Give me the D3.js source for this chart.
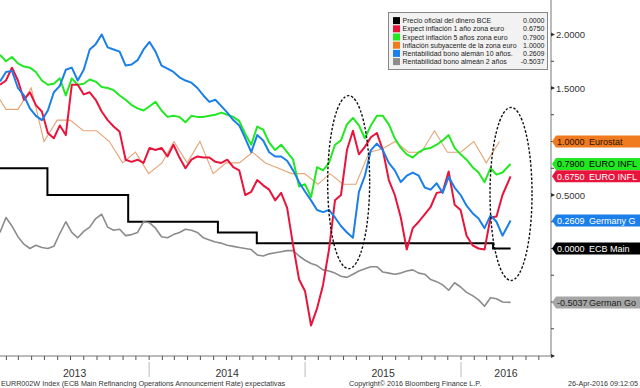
<!DOCTYPE html>
<html><head><meta charset="utf-8">
<script src="https://cdn.jsdelivr.net/npm/d3@7"></script>
<style>body{margin:0;background:#fff}svg{display:block}</style>
</head><body><svg id="c" width="640" height="388"></svg>
<script>
// ---------- DATA ----------
const startDate = "2013-01-17", endDate = "2016-04-26", stepDays = 14;
const blue10y = [1.56,1.65,1.66,1.50,1.43,1.31,1.24,1.20,1.29,1.46,
 1.52,1.67,1.69,1.57,1.67,1.86,1.91,2.00,1.88,1.86,
 1.84,1.71,1.72,1.76,1.86,1.93,1.84,1.71,1.68,1.65,
 1.60,1.57,1.55,1.50,1.43,1.37,1.39,1.33,1.27,1.20,
 1.15,1.03,0.90,1.06,1.01,0.90,0.86,0.86,0.82,0.73,
 0.62,0.53,0.45,0.36,0.34,0.36,0.29,0.21,0.15,0.10,
 0.53,0.68,0.92,0.98,0.92,0.80,0.73,0.62,0.68,0.71,
 0.68,0.57,0.55,0.61,0.52,0.67,0.57,0.50,0.40,0.33,
 0.28,0.19,0.31,0.25,0.12,0.2609];
const red1y = [1.53,1.57,1.69,1.57,1.39,1.46,1.34,1.28,1.08,1.03,
 1.15,1.06,1.53,1.53,1.44,1.46,1.39,1.28,1.20,1.14,
 1.09,0.83,0.81,0.83,0.80,0.94,0.92,0.94,0.86,0.97,
 0.85,0.75,0.83,0.86,0.85,0.85,0.81,0.80,0.83,0.76,
 0.73,0.50,0.53,0.64,0.59,0.55,0.45,0.52,0.38,0.03,
 -0.29,-0.40,-0.72,-0.56,-0.34,-0.01,0.45,0.50,0.92,1.10,
 0.88,0.95,1.04,1.08,0.92,0.64,0.50,0.29,-0.01,0.19,
 0.25,0.32,0.39,0.52,0.53,0.72,0.41,0.36,0.12,0.03,
 0.00,-0.01,0.29,0.30,0.50,0.675];
const green5y = [1.81,1.75,1.79,1.73,1.70,1.69,1.65,1.57,1.53,1.54,
 1.59,1.43,1.59,1.53,1.54,1.58,1.56,1.51,1.50,1.48,
 1.43,1.39,1.34,1.31,1.29,1.33,1.37,1.29,1.23,1.24,
 1.23,1.18,1.24,1.23,1.23,1.24,1.25,1.27,1.25,1.23,
 1.19,1.07,0.97,1.14,1.11,0.99,0.92,0.97,0.90,0.83,
 0.58,0.60,0.48,0.76,0.73,0.80,0.97,1.01,1.16,1.22,
 1.15,1.03,1.15,1.24,1.24,1.16,1.03,0.94,0.88,0.85,
 0.90,0.93,0.94,0.97,1.01,1.06,0.94,0.88,0.83,0.76,
 0.71,0.62,0.75,0.69,0.71,0.79];
const gray2y = [0.15,0.29,0.21,0.11,0.04,0.00,0.03,0.01,0.00,0.02,
 0.14,0.25,0.15,0.10,0.16,0.20,0.28,0.32,0.20,0.17,
 0.18,0.12,0.13,0.15,0.25,0.24,0.19,0.11,0.10,0.13,
 0.15,0.18,0.17,0.15,0.10,0.08,0.06,0.05,0.03,0.02,
 0.01,0.00,-0.01,-0.06,-0.07,-0.05,-0.04,-0.03,-0.02,-0.02,
 -0.07,-0.11,-0.14,-0.16,-0.20,-0.21,-0.23,-0.26,-0.27,-0.24,
 -0.21,-0.19,-0.17,-0.17,-0.22,-0.23,-0.24,-0.23,-0.21,-0.20,
 -0.23,-0.24,-0.29,-0.31,-0.34,-0.39,-0.32,-0.36,-0.41,-0.44,
 -0.48,-0.54,-0.46,-0.47,-0.50,-0.5037];
const coreMonths = ["2012-12","2013-01","2013-02","2013-03","2013-04","2013-05","2013-06","2013-07","2013-08","2013-09","2013-10","2013-11","2013-12",
 "2014-01","2014-02","2014-03","2014-04","2014-05","2014-06","2014-07","2014-08","2014-09","2014-10","2014-11","2014-12",
 "2015-01","2015-02","2015-03","2015-04","2015-05","2015-06","2015-07","2015-08","2015-09","2015-10","2015-11","2015-12",
 "2016-01","2016-02","2016-03"];
const coreInfl = [1.5,1.3,1.3,1.5,1.0,1.2,1.2,1.1,1.1,1.0,0.8,0.9,0.7,
 0.8,1.0,0.8,1.0,0.7,0.8,0.8,0.9,0.8,0.75,0.7,0.7,
 0.6,0.7,0.6,0.6,0.9,0.93,1.0,0.9,0.9,1.1,0.9,0.9,
 1.0,0.8,1.0];
const ecbDates = ["2013-01-17","2013-05-08","2013-11-13","2014-06-11","2014-09-10","2016-03-16","2016-04-26"];
const ecbRates = [0.75,0.50,0.25,0.15,0.05,0.00,0.00];

const legendNames = ["Precio oficial del dinero BCE","Expect inflación 1 año zona euro","Expect inflación 5 años zona euro",
 "Inflación subyacente de la zona euro","Rentabilidad bono alemán 10 años.","Rentabilidad bono almeán 2 años"];
const legendValues = ["0.0000","0.6750","0.7900","1.0000","0.2609","-0.5037"];
const tagValues = [1.0, 0.79, 0.675, 0.2609, 0.0, -0.5037];
const tagNumbers = ["1.0000","0.7900","0.6750","0.2609","0.0000","-0.5037"];
const tagNames = ["Eurostat","EURO INFL","EURO INFL","Germany G","ECB Main","German Go"];
const yTicks = [2.0, 1.5, 0.5];
const yearLabels = ["2013","2014","2015","2016"];
const ellipseCenters = [["2015-04-13", 0.62], ["2016-04-27", 0.51]];

// ---------- SETUP ----------
const parse = d3.timeParse("%Y-%m-%d");
const svg = d3.select("#c");
const plotRight = 551, plotBottom = 356;
const x = d3.scaleTime().domain([parse(startDate), parse(endDate)]).range([0, 510.6]);
const y = d3.scaleLinear().domain([-1, 2]).range([355.5, 34.5]);
const n = blue10y.length;
const dates = d3.range(n).map(i => i === n - 1 ? parse(endDate) : d3.timeDay.offset(parse(startDate), i * stepDays));

const C = {black:"#000000", red:"#e8143c", green:"#22e822", orange:"#f07a1e", orangeLine:"#e4a477", blue:"#1a7fe8", gray:"#8c8c8c"};
const font = "'Liberation Sans', Arial, sans-serif";

svg.append("rect").attr("width",640).attr("height",388).attr("fill","#fff");
svg.append("defs").append("clipPath").attr("id","clip").append("rect")
  .attr("x",0).attr("y",0).attr("width",plotRight).attr("height",plotBottom);

const g = svg.append("g").attr("clip-path","url(#clip)");
const line = d3.line().x(d => x(d[0])).y(d => y(d[1]));
const zipD = vals => vals.map((v,i) => [dates[i], v]);

// ECB step line
const ecbData = ecbDates.map((d,i) => [parse(d), ecbRates[i]]);
g.append("path").datum(ecbData).attr("d", d3.line().curve(d3.curveStepAfter).x(d=>x(d[0])).y(d=>y(d[1])))
  .attr("fill","none").attr("stroke",C.black).attr("stroke-width",2);
// gray
g.append("path").datum(zipD(gray2y)).attr("d",line).attr("fill","none").attr("stroke",C.gray).attr("stroke-width",1.6).attr("stroke-linejoin","round");
// orange core inflation (monthly, end of month)
const coreData = coreMonths.map((m,i) => { const d = d3.timeParse("%Y-%m")(m); return [d3.timeDay.offset(d3.timeMonth.offset(d,1),-1), coreInfl[i]]; });
g.append("path").datum(coreData).attr("d",line).attr("fill","none").attr("stroke",C.orangeLine).attr("stroke-width",1.1);
// green, red, blue
[[green5y,C.green],[red1y,C.red],[blue10y,C.blue]].forEach(([vals,col]) => {
  g.append("path").datum(zipD(vals)).attr("d",line).attr("fill","none").attr("stroke",col)
   .attr("stroke-width",2).attr("stroke-linejoin","round");
});

// dashed ellipses
ellipseCenters.forEach(([d,v]) => {
  svg.append("ellipse").attr("cx", x(parse(d))).attr("cy", y(v)).attr("rx",21).attr("ry",86.5)
    .attr("fill","none").attr("stroke","#111").attr("stroke-width",1.4).attr("stroke-dasharray","2.5,1.8");
});

// ---------- AXES ----------
svg.append("line").attr("x1",plotRight).attr("x2",plotRight).attr("y1",0).attr("y2",plotBottom)
  .attr("stroke","#777").attr("stroke-width",1);
const minor = d3.range(-1, 2.01, 0.25);
svg.selectAll(".ytick").data(minor).enter().append("line")
  .attr("x1",plotRight).attr("x2",plotRight+3).attr("y1",d=>y(d)).attr("y2",d=>y(d))
  .attr("stroke","#444").attr("stroke-width",1);
svg.selectAll(".ymaj").data(yTicks).enter().append("path")
  .attr("d", d => `M${plotRight},${y(d)-2}L${plotRight+4},${y(d)}L${plotRight},${y(d)+2}Z`).attr("fill","#333");
svg.selectAll(".ylab").data(yTicks).enter().append("text")
  .attr("x",plotRight+5).attr("y",d=>y(d)+3.5).text(d=>d3.format(".4f")(d))
  .attr("font-family",font).attr("font-size",9.5).attr("fill","#333");

svg.append("line").attr("x1",0).attr("x2",plotRight).attr("y1",plotBottom).attr("y2",plotBottom)
  .attr("stroke","#777").attr("stroke-width",1);
svg.append("path").attr("d",`M${plotRight},${plotBottom-2}L${plotRight+4},${plotBottom}L${plotRight},${plotBottom+2}Z`).attr("fill","#333");
const months = d3.timeMonth.range(x.invert(0), x.invert(plotRight));
svg.selectAll(".xtick").data(months).enter().append("line")
  .attr("x1",d=>x(d)).attr("x2",d=>x(d)).attr("y1",plotBottom).attr("y2",plotBottom+4)
  .attr("stroke","#555").attr("stroke-width",1);
const years = yearLabels.map(s => d3.timeParse("%Y")(s));
years.slice(1).forEach(d => {
  svg.append("line").attr("x1",x(d)).attr("x2",x(d)).attr("y1",362).attr("y2",377)
    .attr("stroke","#bbb").attr("stroke-width",1);
});
years.forEach((d,i) => {
  const a = Math.max(0, x(d)), b = Math.min(plotRight, x(d3.timeYear.offset(d,1)));
  svg.append("text").attr("x",(a+b)/2).attr("y",377).attr("text-anchor","middle").text(yearLabels[i])
    .attr("font-family",font).attr("font-size",10.5).attr("fill","#333");
});

const ft = (t,xx,anchor) => svg.append("text").attr("x",xx).attr("y",386).attr("text-anchor",anchor).text(t)
  .attr("font-family",font).attr("font-size",7.2).attr("fill","#333");
ft("EURR002W Index (ECB Main Refinancing Operations Announcement Rate) expectativas", 1, "start");
ft("Copyright\u00A9 2016 Bloomberg Finance L.P.", 349, "start");
ft("26-Apr-2016 09:12:05", 638, "end");

// ---------- TAGS ----------
const tagFill = [C.orange, C.green, C.red, C.blue, C.black, "#a6a6a6"];
const tagText = ["#2a1200", "#000", "#fff", "#fff", "#fff", "#222"];
tagValues.forEach((v,i) => {
  const yy = y(v);
  svg.append("path").attr("d",`M${plotRight+1},${yy}L${plotRight+5},${yy-6}L640,${yy-6}L640,${yy+6}L${plotRight+5},${yy+6}Z`)
    .attr("fill",tagFill[i]);
  svg.append("text").attr("x",557).attr("y",yy+3.3).text(tagNumbers[i]).attr("font-family",font).attr("font-size",9).attr("fill",tagText[i]);
  svg.append("text").attr("x",589).attr("y",yy+3.3).text(tagNames[i]).attr("font-family",font).attr("font-size",9).attr("fill",tagText[i]);
});

// ---------- LEGEND ----------
const legCols = [C.black, C.red, C.green, C.orange, C.blue, C.gray];
const lg = svg.append("g");
lg.append("rect").attr("x",388.5).attr("y",12.5).attr("width",159).attr("height",57)
  .attr("fill","#f2f2f2").attr("stroke","#888").attr("stroke-width",1);
legendNames.forEach((t,i) => {
  const yy = 20.6 + i*8.2;
  lg.append("rect").attr("x",393).attr("y",yy-3.5).attr("width",7).attr("height",7).attr("fill",legCols[i]);
  lg.append("text").attr("x",402.5).attr("y",yy+2.6).text(t).attr("font-family",font).attr("font-size",7).attr("fill","#222");
  lg.append("text").attr("x",544.5).attr("y",yy+2.6).attr("text-anchor","end").text(legendValues[i]).attr("font-family",font).attr("font-size",7).attr("fill","#222");
});
</script></body></html>
